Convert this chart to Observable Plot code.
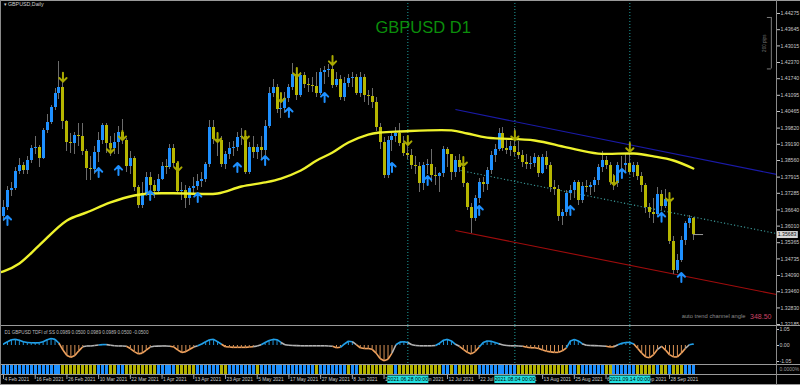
<!DOCTYPE html>
<html><head><meta charset="utf-8">
<script src="https://cdn.jsdelivr.net/npm/d3@7"></script>
<script src="https://cdn.jsdelivr.net/npm/@observablehq/plot@0.6"></script>
<style>
html,body{margin:0;padding:0;background:#000;}
#chart{position:relative;width:800px;height:385px;background:#000;overflow:hidden;}
#chart .panel{position:absolute;left:0;}
#chart .panel svg{display:block;}
#chart .hl{position:absolute;left:0;width:800px;height:1px;background:#9a9a9a;}
#chart .vl{position:absolute;top:0;width:1px;background:#8a8a8a;}
</style></head><body><div id="chart"></div>
<script>
// ---------- data ----------
const firstOpen = 1.3638;
const closes = [
 1.3673,1.3740,1.3747,1.3813,1.3837,1.3817,1.3856,1.3903,1.3907,1.3864,
 1.3973,1.4004,1.4062,1.4117,1.4140,1.4008,1.3926,1.3922,1.3953,1.3949,
 1.3891,1.3825,1.3821,1.3887,1.3934,1.3992,1.3922,1.3903,1.3926,1.3965,
 1.3934,1.3833,1.3864,1.3751,1.3681,1.3728,1.3790,1.3759,1.3736,1.3782,
 1.3833,1.3829,1.3903,1.3844,1.3736,1.3740,1.3708,1.3747,1.3755,1.3774,
 1.3782,1.3841,1.3984,1.3938,1.3934,1.3841,1.3879,1.3903,1.3907,1.3945,
 1.3949,1.3809,1.3907,1.3887,1.3907,1.3895,1.3988,1.4117,1.4140,1.4054,
 1.4058,1.4097,1.4140,1.4190,1.4109,1.4187,1.4152,1.4148,1.4144,1.4117,
 1.4198,1.4206,1.4210,1.4148,1.4171,1.4101,1.4155,1.4175,1.4179,1.4117,
 1.4179,1.4109,1.4105,1.4082,1.3984,1.3926,1.3798,1.3934,1.3949,1.3961,
 1.3922,1.3883,1.3876,1.3837,1.3833,1.3767,1.3837,1.3841,1.3798,1.3794,
 1.3806,1.3899,1.3879,1.3809,1.3856,1.3829,1.3767,1.3673,1.3630,1.3708,
 1.3771,1.3763,1.3817,1.3876,1.3899,1.3961,1.3903,1.3895,1.3911,1.3887,
 1.3876,1.3848,1.3841,1.3844,1.3868,1.3806,1.3868,1.3837,1.3751,1.3743,
 1.3638,1.3654,1.3728,1.3740,1.3771,1.3701,1.3755,1.3752,1.3759,1.3778,
 1.3829,1.3856,1.3837,1.3771,1.3767,1.3837,1.3835,1.3844,1.3809,1.3837,
 1.3794,1.3759,1.3673,1.3654,1.3646,1.3724,1.3677,1.3705,1.3541,1.3429,
 1.3467,1.3545,1.3611,1.3630,1.3568];
const highs = [
 1.3700,1.3755,1.3770,1.3830,1.3865,1.3850,1.3870,1.3915,1.3950,1.3915,
 1.3980,1.4035,1.4070,1.4135,1.4241,1.4185,1.4010,1.3960,1.3965,1.4000,
 1.4000,1.3900,1.3870,1.3910,1.3965,1.4000,1.4000,1.3950,1.3960,1.3990,
 1.4015,1.3940,1.3890,1.3870,1.3760,1.3770,1.3810,1.3810,1.3780,1.3800,
 1.3850,1.3860,1.3920,1.3920,1.3850,1.3770,1.3760,1.3755,1.3790,1.3800,
 1.3810,1.3850,1.4010,1.4010,1.3965,1.3950,1.3890,1.3925,1.3930,1.3965,
 1.3980,1.3965,1.3925,1.3950,1.3920,1.3950,1.4010,1.4140,1.4170,1.4150,
 1.4100,1.4120,1.4150,1.4233,1.4200,1.4200,1.4200,1.4175,1.4180,1.4200,
 1.4215,1.4220,1.4230,1.4250,1.4200,1.4185,1.4180,1.4190,1.4200,1.4190,
 1.4200,1.4190,1.4130,1.4135,1.4100,1.4000,1.3945,1.3950,1.3970,1.3985,
 1.4000,1.3950,1.3920,1.3900,1.3870,1.3850,1.3850,1.3860,1.3900,1.3830,
 1.3810,1.3910,1.3905,1.3880,1.3870,1.3880,1.3840,1.3770,1.3690,1.3720,
 1.3785,1.3790,1.3830,1.3890,1.3920,1.3980,1.3985,1.3935,1.3930,1.3980,
 1.3930,1.3895,1.3880,1.3870,1.3885,1.3875,1.3880,1.3890,1.3850,1.3780,
 1.3760,1.3665,1.3740,1.3760,1.3780,1.3780,1.3770,1.3780,1.3770,1.3790,
 1.3840,1.3890,1.3870,1.3850,1.3800,1.3850,1.3870,1.3880,1.3910,1.3850,
 1.3850,1.3810,1.3765,1.3690,1.3710,1.3750,1.3740,1.3745,1.3720,1.3560,
 1.3490,1.3560,1.3620,1.3641,1.3635];
const lows = [
 1.3620,1.3660,1.3715,1.3740,1.3800,1.3800,1.3800,1.3845,1.3880,1.3830,
 1.3860,1.3960,1.3995,1.4050,1.4095,1.3975,1.3890,1.3885,1.3880,1.3910,
 1.3875,1.3780,1.3780,1.3800,1.3850,1.3920,1.3885,1.3870,1.3880,1.3880,
 1.3920,1.3810,1.3800,1.3735,1.3670,1.3670,1.3720,1.3740,1.3710,1.3725,
 1.3780,1.3800,1.3820,1.3830,1.3725,1.3700,1.3670,1.3680,1.3720,1.3740,
 1.3750,1.3770,1.3830,1.3920,1.3870,1.3830,1.3820,1.3860,1.3870,1.3890,
 1.3915,1.3800,1.3800,1.3865,1.3860,1.3860,1.3875,1.3980,1.4100,1.4040,
 1.4020,1.4040,1.4080,1.4130,1.4090,1.4100,1.4135,1.4120,1.4120,1.4100,
 1.4110,1.4150,1.4180,1.4135,1.4140,1.4090,1.4085,1.4140,1.4140,1.4110,
 1.4100,1.4080,1.4070,1.4060,1.3970,1.3900,1.3787,1.3785,1.3890,1.3925,
 1.3910,1.3870,1.3860,1.3820,1.3800,1.3730,1.3740,1.3800,1.3770,1.3760,
 1.3730,1.3790,1.3830,1.3780,1.3790,1.3810,1.3750,1.3660,1.3572,1.3620,
 1.3690,1.3730,1.3740,1.3800,1.3850,1.3890,1.3890,1.3880,1.3870,1.3870,
 1.3860,1.3830,1.3820,1.3820,1.3830,1.3790,1.3800,1.3820,1.3730,1.3720,
 1.3620,1.3602,1.3640,1.3700,1.3710,1.3680,1.3690,1.3730,1.3720,1.3730,
 1.3760,1.3810,1.3820,1.3760,1.3740,1.3750,1.3820,1.3810,1.3800,1.3790,
 1.3780,1.3730,1.3650,1.3630,1.3610,1.3640,1.3660,1.3670,1.3530,1.3412,
 1.3415,1.3460,1.3525,1.3590,1.3545];

// moving average (read at sampled bars)
const maIndex = [-1,0,4,9,16,21,27,33,37,46,54,60,66,70,75,79,83,87,92,95,100,113,117,122,134,142,150,159,164,169,174];
const maValue = [1.3421,1.3425,1.3456,1.3526,1.3623,1.3654,1.3693,1.3720,1.3728,1.3728,1.3728,1.3755,1.3771,1.3786,1.3817,1.3856,1.3887,1.3926,1.3957,1.3965,1.3969,1.3973,1.3961,1.3945,1.3934,1.3907,1.3883,1.3883,1.3872,1.3856,1.3825];

// signal arrows
const upArrowBars = [1,24,29,37,49,59,66,72,81,98,107,120,143,156,166,171];
const upArrowPrice = [1.3623,1.3809,1.3817,1.3720,1.3712,1.3829,1.3856,1.4043,1.4101,1.3829,1.3778,1.3662,1.3662,1.3806,1.3635,1.3401];
const downArrowBars = [15,27,30,44,54,61,70,74,83,102,116,129,154,158,168];
const downArrowPrice = [1.4180,1.3903,1.3953,1.3833,1.3945,1.3953,1.4101,1.4198,1.4245,1.3934,1.3852,1.3953,1.3778,1.3907,1.3712];

// auto trend channel
const channelNames = ["upper","middle","lower"];
const channelStartBar = [114,115.3,114];
const channelStartPrice = [1.4054,1.3817,1.3584];
const channelEndBar = [195,195,195];
const channelEndPrice = [1.3802,1.3572,1.3335];
const channelColors = ["#1a1aa8","#3c9c9c","#a00c0c"];
const channelAngle = 348.50;

// TDFI oscillator
const oscValues = [
 0.10,0.25,0.38,0.40,0.35,0.25,0.20,0.18,0.17,0.18,
 0.25,0.38,0.46,0.40,0.15,-0.30,-0.65,-0.77,-0.65,-0.35,
 -0.08,-0.03,-0.03,0.00,0.03,0.06,0.06,0.02,-0.02,-0.03,
 -0.03,-0.05,-0.20,-0.40,-0.55,-0.50,-0.30,-0.10,-0.05,-0.04,
 -0.03,-0.03,-0.05,-0.10,-0.30,-0.46,-0.40,-0.25,-0.10,-0.02,
 0.10,0.25,0.38,0.40,0.25,0.08,-0.08,-0.10,-0.12,-0.12,
 -0.12,-0.12,-0.10,-0.08,-0.03,0.05,0.20,0.33,0.40,0.38,
 0.20,0.05,0.02,0.00,-0.01,-0.02,-0.02,-0.02,-0.02,-0.02,
 -0.02,-0.02,-0.03,-0.05,-0.15,-0.12,0.10,0.28,0.25,0.05,
 -0.15,-0.20,-0.20,-0.25,-0.50,-0.85,-1.00,-0.90,-0.50,0.05,
 0.22,0.25,0.20,0.05,0.00,-0.02,-0.02,-0.02,-0.02,0.00,
 0.15,0.35,0.40,0.30,0.08,-0.05,-0.25,-0.45,-0.55,-0.40,
 -0.10,0.20,0.30,0.28,0.20,0.12,0.03,0.00,-0.02,-0.02,
 -0.03,-0.05,-0.12,-0.15,-0.15,-0.20,-0.30,-0.38,-0.42,-0.45,
 -0.45,-0.35,-0.15,0.30,0.40,0.30,0.12,0.02,0.00,-0.01,
 -0.02,-0.03,-0.05,-0.10,-0.08,0.05,0.15,0.20,0.20,0.10,
 -0.20,-0.50,-0.75,-0.80,-0.60,-0.25,-0.05,-0.30,-0.60,-0.75,
 -0.75,-0.50,-0.20,0.05,0.10];
const oscTicks = [1.05, 0.00, -1.05];
const oscTitle = "D1 GBPUSD TDFI of SS 0.0989 0.0500 0.0989 0.0989 0.0500 -0.0500";

// trend state strip (run-length: state, number of bars)
const stripRuns = [["u",15],["d",9],["u",3],["d",2],["u",2],["d",8],["u",5],["d",5],["u",6],["d",2],
 ["u",7],["d",1],["u",14],["d",1],["u",7],["d",1],["u",2],["d",9],["u",1],["d",11],["u",2],["d",1],
 ["u",1],["d",5],["u",10],["d",13],["u",2],["d",1],["u",6],["d",2],["u",6],["d",5],["u",1],["d",2],
 ["u",1],["d",3],["u",3]];

// axes
const priceTicks = [1.44275,1.43645,1.43015,1.42370,1.41740,1.41095,1.40465,1.39820,1.39190,1.38560,
 1.37915,1.37285,1.36640,1.36010,1.35365,1.34735,1.34090,1.33460,1.32830,1.32185];
const dateBars = [0,8,16,24,32,40,48,56,64,72,80,88,96,104,112,120,128,136,144,152,160,168];
const dateText = ["4 Feb 2021","16 Feb 2021","26 Feb 2021","10 Mar 2021","22 Mar 2021","1 Apr 2021",
 "13 Apr 2021","23 Apr 2021","5 May 2021","17 May 2021","27 May 2021","8 Jun 2021","18 Jun 2021",
 "30 Jun 2021","12 Jul 2021","22 Jul 2021","3 Aug 2021","13 Aug 2021","25 Aug 2021","6 Sep 2021",
 "16 Sep 2021","28 Sep 2021"];
const markerBars = [102,129,158];
const markerText = ["2021.06.28 00:00","2021.08.04 00:00","2021.09.14 00:00"];
const currentPrice = 1.35683;
const pipsTop = 1.4412, pipsBottom = 1.4212, pipsBar = 193.7;

// ---------- build ----------
const BLUE = "#1e90ff", OLIVE = "#b6b600";
const xDomain = [-0.757, 195.0];
const font = "'Liberation Sans', Arial, sans-serif";
const common = {width: 800, marginLeft: 0, marginRight: 24, marginTop: 0, marginBottom: 0,
  style: {background: "transparent", color: "#c8c8c8", fontFamily: font, fontSize: "5.2px", overflow: "visible"},
  color: {type: "identity"}};

const bars = closes.map((c, i) => ({i, open: i === 0 ? firstOpen : closes[i - 1], close: c, high: highs[i], low: lows[i]}));
const ma = maIndex.map((i, k) => ({i, p: maValue[k]}));
const ups = upArrowBars.map((i, k) => ({i, p: upArrowPrice[k]}));
const downs = downArrowBars.map((i, k) => ({i, p: downArrowPrice[k]}));
const channel = channelNames.map((n, k) => ({n, i1: channelStartBar[k], p1: channelStartPrice[k], i2: channelEndBar[k], p2: channelEndPrice[k], c: channelColors[k]}));
const channelSolid = channel.filter(d => d.n !== "middle");
const channelMid = channel.filter(d => d.n === "middle");
const markers = markerBars.map((i, k) => ({i, label: markerText[k]}));
const dates = dateBars.map((i, k) => ({i, label: dateText[k]}));

const main = Plot.plot({...common, height: 325,
  x: {domain: xDomain, axis: null},
  y: {domain: [1.32147, 1.4478], axis: "right", ticks: priceTicks, tickFormat: d => d.toFixed(5), tickSize: 3, tickPadding: 1, label: null},
  marks: [
    Plot.ruleX(markers, {x: "i", stroke: "#1f9f9f", strokeDasharray: "1,2"}),
    Plot.link(channelSolid, {x1: "i1", y1: "p1", x2: "i2", y2: "p2", stroke: "c", strokeWidth: 1.1}),
    Plot.link(channelMid, {x1: "i1", y1: "p1", x2: "i2", y2: "p2", stroke: "c", strokeWidth: 1.1, strokeDasharray: "1.2,2.2"}),
    Plot.ruleX(bars, {x: "i", y1: "low", y2: "high", stroke: "#6c6c6c", shapeRendering: "crispEdges"}),
    Plot.ruleX(bars, {x: "i", y1: "open", y2: "close", stroke: d => d.close >= d.open ? BLUE : OLIVE, strokeWidth: 3, shapeRendering: "crispEdges"}),
    Plot.line(ma, {x: "i", y: "p", stroke: "#eef22c", strokeWidth: 2.4, curve: "catmull-rom", clip: true}),
    Plot.vector(ups, {x: "i", y: "p", length: 9, rotate: 0, anchor: "middle", r: 7, stroke: BLUE, strokeWidth: 2}),
    Plot.vector(downs, {x: "i", y: "p", length: 9, rotate: 180, anchor: "middle", r: 7, stroke: "#a9a900", strokeWidth: 2}),
    Plot.ruleY([currentPrice], {y: d => d, x1: 174, x2: 176.6, stroke: "#9a9a9a"}),
    Plot.ruleY([currentPrice], {y: d => d, x1: 195.15, x2: 200.5, stroke: "#d8d8d8", strokeWidth: 7}),
    Plot.text([currentPrice], {y: d => d, x: 195.3, text: d => d.toFixed(5), textAnchor: "start", fill: "#111", fontSize: 5.2}),
    // 200 pips scale
    Plot.ruleX([pipsBar], {x: d => d, y1: pipsTop, y2: pipsBottom, stroke: "#7c7c7c"}),
    Plot.ruleY([pipsTop, pipsBottom], {y: d => d, x1: pipsBar - 1, x2: pipsBar, stroke: "#7c7c7c"}),
    Plot.text(["200 pips"], {x: pipsBar - 1.6, y: (pipsTop + pipsBottom) / 2, text: d => d, rotate: -90, fill: "#7c7c7c", fontSize: 4.6}),
    // labels
    Plot.text(["\u25BE GBPUSD,Daily"], {frameAnchor: "top-left", dx: 3, dy: 4, text: d => d, fill: "#d0d0d0", fontSize: 5.3, lineAnchor: "middle"}),
    Plot.text(["GBPUSD D1"], {frameAnchor: "top-left", dx: 375, dy: 27, text: d => d, fill: "#0b8e0b", fontSize: 16.5, lineAnchor: "middle", fontFamily: font}),
    Plot.text(["auto trend channel angle"], {frameAnchor: "bottom-right", dx: -31, dy: -9, text: d => d, textAnchor: "end", lineAnchor: "middle", fill: "#8a8a8a", fontSize: 5.8}),
    Plot.text([channelAngle], {frameAnchor: "bottom-right", dx: -5, dy: -9, text: d => d.toFixed(2), textAnchor: "end", lineAnchor: "middle", fill: "#cc4464", fontSize: 7})
  ]});

const osc = oscValues.map((v, i) => ({i, v}));
const lineColor = v => v > 0.05 ? "#22a2ec" : v < -0.05 ? "#f0a25e" : "#b4b4b4";
const histColor = v => v > 0.05 ? "#22a2ec" : v < -0.05 ? "#f0a25e" : "#3a3a3a";
const segs = osc.slice(1).map((d, k) => ({i1: osc[k].i, v1: osc[k].v, i2: d.i, v2: d.v, c: lineColor(d.v)}));

const ind = Plot.plot({...common, height: 38,
  x: {domain: xDomain, axis: null},
  y: {domain: [-1.2467, 1.2467], axis: "right", ticks: oscTicks, tickFormat: d => d.toFixed(2), tickSize: 2, tickPadding: 1, label: null},
  marks: [
    Plot.ruleX(markers, {x: "i", stroke: "#1f9f9f", strokeDasharray: "1,2"}),
    Plot.ruleX(osc, {x: "i", y1: 0, y2: "v", stroke: d => histColor(d.v), strokeWidth: 0.9}),
    Plot.link(segs, {x1: "i1", y1: "v1", x2: "i2", y2: "v2", stroke: "c", strokeWidth: 1.6}),
    Plot.text([oscTitle], {frameAnchor: "top-left", dx: 4, dy: 6, text: d => d, fill: "#bdbdbd", fontSize: 4.6, lineAnchor: "middle"})
  ]});

const strip = [];
stripRuns.forEach(([s, n]) => { for (let k = 0; k < n; k++) strip.push({i: strip.length, s}); });
const stripPlot = Plot.plot({...common, height: 9, marginBottom: 0.5,
  x: {domain: xDomain, axis: null},
  marks: [
    Plot.ruleX(strip, {x: "i", stroke: d => d.s === "u" ? BLUE : "#b3b300", strokeWidth: 3, shapeRendering: "crispEdges"}),
    Plot.text(["0.0000%"], {frameAnchor: "right", dx: 3, text: d => d, textAnchor: "start", fill: "#9a9a9a", fontSize: 5})
  ]});

const labelPlot = Plot.plot({...common, height: 9,
  x: {domain: xDomain, axis: null},
  marks: [
    Plot.ruleX(dates, {x: "i", stroke: "#a0a0a0", insetBottom: 5}),
    Plot.text(dates, {x: "i", text: "label", textAnchor: "start", dx: 1, dy: -0.5, frameAnchor: "middle", fill: "#cfcfcf", fontSize: 4.9}),
    Plot.ruleX(markers, {x: "i", stroke: "#22e0e0", strokeWidth: 41, insetTop: 0.5, insetBottom: 1}),
    Plot.text(markers, {x: "i", text: "label", dy: -0.5, frameAnchor: "middle", fill: "#000", fontSize: 5.2})
  ]});

const chart = document.getElementById("chart");
function place(el, top) { const d = document.createElement("div"); d.className = "panel"; d.style.top = top + "px"; d.appendChild(el); chart.appendChild(d); }
place(main, 0);
place(ind, 326);
place(stripPlot, 365);
place(labelPlot, 375);
function hline(y) { const d = document.createElement("div"); d.className = "hl"; d.style.top = y + "px"; chart.appendChild(d); }
[0, 325, 364, 374, 384].forEach(hline);
const v1 = document.createElement("div"); v1.className = "vl"; v1.style.left = "776px"; v1.style.height = "385px"; chart.appendChild(v1);
const v0 = document.createElement("div"); v0.className = "vl"; v0.style.left = "0px"; v0.style.height = "385px"; chart.appendChild(v0);
</script></body></html>
